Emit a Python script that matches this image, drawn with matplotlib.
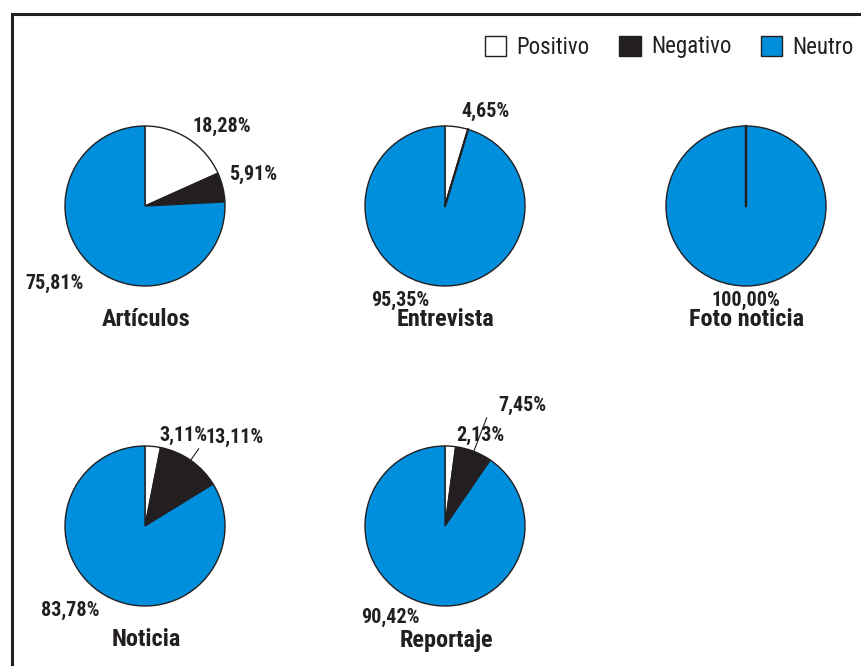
import matplotlib
matplotlib.use("Agg")
import matplotlib.pyplot as plt
import numpy as np
from matplotlib.patches import Rectangle
from matplotlib import font_manager

categories = ["Artículos", "Entrevista", "Foto noticia", "Noticia", "Reportaje"]
series = ["Positivo", "Negativo", "Neutro"]
positivo = [18.28, 4.65, 0.00, 3.11, 2.13]
negativo = [5.91, 0.00, 0.00, 13.11, 7.45]
neutro = [75.81, 95.35, 100.00, 83.78, 90.42]
colors = ["#FFFFFF", "#231F20", "#008FDC"]

names = {f.name for f in font_manager.fontManager.ttflist}
narrow = [n for n in ["Liberation Sans Narrow", "Roboto Condensed", "Open Sans Condensed",
                      "DejaVu Sans Condensed"] if n in names]
if narrow:
    fam = [narrow[0], "DejaVu Sans"]
    s_lab, s_tit, s_leg = 14.5, 17.5, 16.5
else:
    fam = ["Liberation Sans", "DejaVu Sans"]
    s_lab, s_tit, s_leg = 12.5, 15, 15

W, H = 861, 666
fig = plt.figure(figsize=(W / 100, H / 100), dpi=100)
ax = fig.add_axes([0, 0, 1, 1])

centers = [(145, 460), (445, 460), (746, 460), (145, 140), (445, 140)]
R = 80
label_off = [
    [(77, 80), (108, 32), (-90, -77)],
    [(41, 95), None, (-45, -94)],
    [None, None, (0, -94)],
    [(38, 91), (90, 89), (-75, -84)],
    [(35, 91), (77, 121), (-55, -91)],
]
leader = [None, None, None, (1, 14), (1, 36)]  # (slice index, length)

ink = "#231F20"
wedges_ref = None
for i, cat in enumerate(categories):
    vals = [positivo[i], negativo[i], neutro[i]]
    cx, cy = centers[i]
    w, _ = ax.pie(vals, colors=colors, startangle=90, counterclock=False,
                  center=(cx, cy), radius=R, normalize=True,
                  wedgeprops=dict(edgecolor=ink, linewidth=1.0))
    if wedges_ref is None:
        wedges_ref = w
    # boundaries of empty slices are still drawn as radius lines
    tot = sum(vals)
    cum = 0.0
    for v in vals:
        if v == 0:
            a = cum / tot * 2 * np.pi
            ax.plot([cx, cx + R * np.sin(a)], [cy, cy + R * np.cos(a)], color=ink, lw=1.6)
        cum += v
    for j, v in enumerate(vals):
        off = label_off[i][j]
        if off is None:
            continue
        ax.text(cx + off[0], cy + off[1], f"{v:.2f}%".replace(".", ","),
                ha="center", va="center", fontsize=s_lab, fontweight="bold",
                family=fam, color=ink)
    if leader[i] is not None:
        j, L = leader[i]
        mid = (sum(vals[:j]) + vals[j] / 2) / tot * 2 * np.pi
        sx, sy = cx + R * np.sin(mid), cy + R * np.cos(mid)
        ex, ey = cx + (R + L) * np.sin(mid), cy + (R + L) * np.cos(mid)
        ax.plot([sx, ex], [sy, ey], color=ink, lw=0.8)
    ax.text(cx + 1, cy - 114, cat, ha="center", va="center", fontsize=s_tit,
            fontweight="bold", family=fam, color=ink)

ax.set_xlim(0, W)
ax.set_ylim(0, H)
ax.set_aspect("equal")
ax.axis("off")

leg = ax.legend(wedges_ref, series, loc="center right", bbox_to_anchor=(863 / W, (H - 47) / H),
                ncol=3, frameon=False, handlelength=0.95, handleheight=0.95,
                handletextpad=0.45, columnspacing=1.27, borderaxespad=0,
                prop=dict(family=fam, size=s_leg))
for t in leg.get_texts():
    t.set_color(ink)

fig.add_artist(Rectangle((12 / W, -0.1), 1.2, (H - 14) / H + 0.1, transform=fig.transFigure,
                         fill=False, edgecolor=ink, linewidth=2.2))

fig.savefig("out.png", dpi=100)
